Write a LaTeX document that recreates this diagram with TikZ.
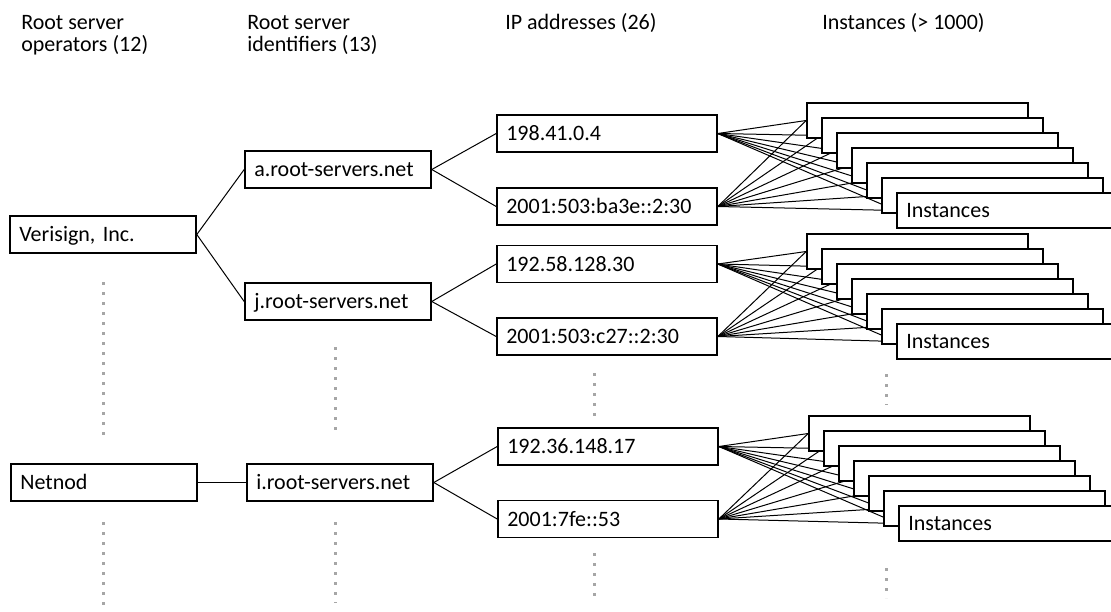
\documentclass[tikz,border=0pt]{standalone}
\usepackage{fontspec}
\setmainfont{Carlito}
\usetikzlibrary{positioning}
\usetikzlibrary{backgrounds}
\frenchspacing

\tikzset{
  srvbox/.style={draw, rectangle, line width=1.2pt, fill=white, align=left,
    inner xsep=7pt, inner ysep=0pt, minimum height=27.75pt,
    text height=10.6pt, text depth=0pt, text width=#1},
  instbox/.style={srvbox=151.75pt, minimum height=26.25pt},
  link/.style={line width=0.75pt},
  dots/.style={gray!70, line width=2.25pt, dash pattern=on 2.25pt off 5.25pt},
  header/.style={anchor=north west, inner sep=0pt, align=left},
}

\begin{document}
\begin{tikzpicture}[x=0.75pt, y=-0.75pt, font=\fontsize{16.5}{16.5}\selectfont]
            \useasboundingbox (0,0) rectangle (1111,611);

            % Column headers
            \node[header] (hops) at (21,15) {Root server\\operators (12)};
            \node[header] (hids) at (247,15) {Root server\\identifiers (13)};
            \node[anchor=base west, inner sep=0pt] (hips) at (505,29) {IP addresses (26)};
            \node[anchor=base west, inner sep=0pt] (hinst) at (822,29) {Instances (> 1000)};

            % Operators
            \node[srvbox=125.5pt] (verisign) at (103,234.5) {Verisign, Inc.};
            \node[srvbox=125.5pt] (netnod) at (104,482.5) {Netnod};

            % Identifiers
            \node[srvbox=125.5pt] (aroot) at (338,169.5) {a.root-servers.net};
            \node[srvbox=125.5pt] (jroot) at (338,301.5) {j.root-servers.net};
            \node[srvbox=125.5pt] (iroot) at (340,482.5) {i.root-servers.net};

            % IP addresses
            \node[srvbox=151pt] (ipa4) at (607,133.5) {198.41.0.4};
            \node[srvbox=151pt] (ipa6) at (607,206.5) {2001:503:ba3e::2:30};
            \node[srvbox=151pt] (ipj4) at (607,264) {192.58.128.30};
            \node[srvbox=151pt] (ipj6) at (607,336.5) {2001:503:c27::2:30};
            \node[srvbox=151pt] (ipi4) at (608,446.5) {192.36.148.17};
            \node[srvbox=151pt] (ipi6) at (608,519) {2001:7fe::53};

            % Instance stacks
            \foreach \g/\left/\top in {a/807/103, j/807/234, i/809/416} {
              \foreach \k in {0,...,6} {
                \node[instbox] (inst\g\k) at ({\left+110.5+15*\k},{\top+17.5+15*\k})
                  {\ifnum\k=6 Instances\fi};
              }
            }

            % Links
            \draw[link] (verisign.east) -- (aroot.west);
            \draw[link] (verisign.east) -- (jroot.west);
            \draw[link] (netnod.east) -- (iroot.west);
            \foreach \g in {a,j,i} {
              \draw[link] (\g root.east) -- (ip\g4.west);
              \draw[link] (\g root.east) -- (ip\g6.west);
            }
            \begin{pgfonlayer}{background}
              \foreach \g in {a,j,i} {
                \foreach \k in {0,...,6} {
                  \draw[link] (ip\g4.east) -- (inst\g\k.west);
                  \draw[link] (ip\g6.east) -- (inst\g\k.west);
                }
              }
            \end{pgfonlayer}

            % Vertical ellipses
            \draw[dots] (103,282) -- (103,438);
            \draw[dots] (103,522) -- (103,611);
            \draw[dots] (335,347) -- (335,430);
            \draw[dots] (335,522) -- (335,603);
            \draw[dots] (594,373) -- (594,417);
            \draw[dots] (594,553) -- (594,597);
            \draw[dots] (886,374) -- (886,405);
            \draw[dots] (886,568) -- (886,598);
        \end{tikzpicture}
\end{document}
